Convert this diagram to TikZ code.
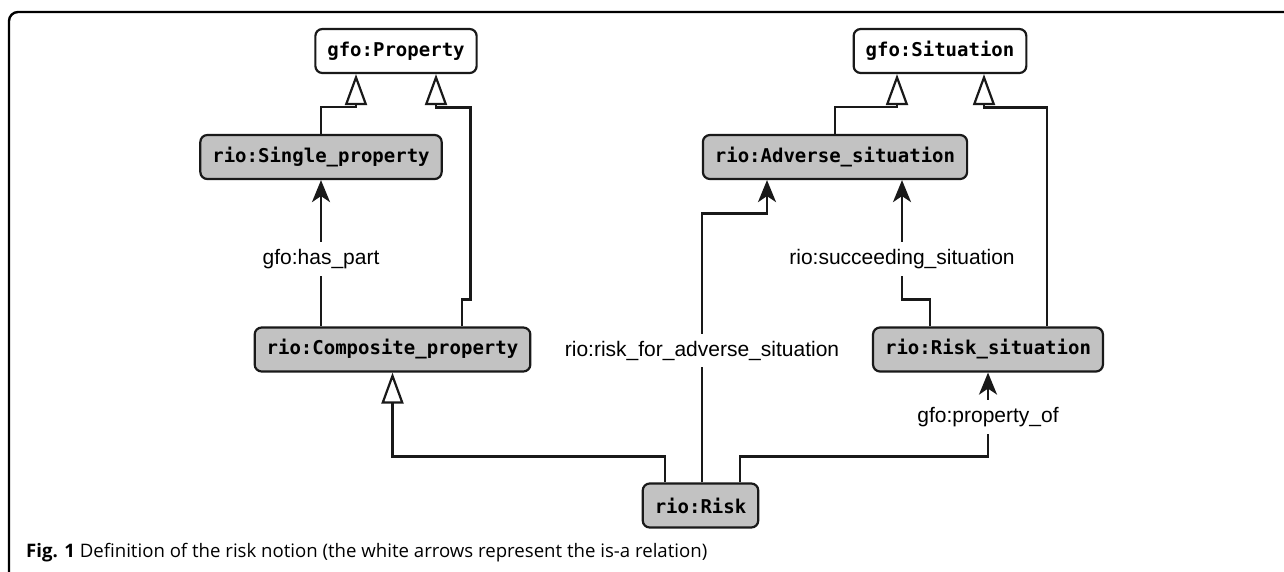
\documentclass[tikz,border=0pt]{standalone}
\usepackage{fontspec}
\usetikzlibrary{arrows.meta}
\newfontfamily\boxfont{DejaVu Sans Mono}
\newfontfamily\lblfont{Liberation Sans}
\newfontfamily\capfont{Open Sans}
\definecolor{boxgray}{RGB}{194,194,194}
\definecolor{inkline}{RGB}{25,25,25}

\tikzset{
  gfobox/.style={draw=inkline, line width=2.2pt, rounded corners=7pt, fill=white,
    minimum height=44pt, inner xsep=12pt, inner ysep=0pt,
    font=\boxfont\bfseries\fontsize{19}{22}\selectfont},
  riobox/.style={gfobox, fill=boxgray},
  isa/.style={draw=inkline, line width=2.2pt, -{Triangle[open, length=31pt, width=22pt, fill=white]}},
  rel/.style={draw=inkline, line width=2.2pt, -{Stealth[length=22pt, width=18pt, inset=6pt]}},
  rellabel/.style={fill=white, inner xsep=3pt, inner ysep=7pt,
    font=\lblfont\fontsize{21}{24}\selectfont}
}

\begin{document}
\begin{tikzpicture}[x=1pt, y=-1pt]
  \useasboundingbox (0,0) rectangle (1284,571);
  \draw[line width=2.4pt, rounded corners=9pt] (9,575) -- (9,12) -- (1290,12);

  \node[gfobox] (prop) at (396,51) {gfo:Property};
  \node[gfobox] (sit) at (940,51) {gfo:Situation};
  \node[riobox] (single) at (321,157) {rio:Single\_property};
  \node[riobox] (adverse) at (835,157) {rio:Adverse\_situation};
  \node[riobox] (composite) at (392.5,349.5) {rio:Composite\_property};
  \node[riobox] (risksit) at (988,349.5) {rio:Risk\_situation};
  \node[riobox] (risk) at (700.5,505.5) {rio:Risk};

  \draw[isa] (single.north) -- ++(0,-27) -| ([xshift=-40pt]prop.south);
  \draw[isa] ([xshift=69.5pt]composite.north) -- ++(0,-27) -- ++(8.5,0) -- ++(0,-192) -| ([xshift=40pt]prop.south);
  \draw[isa] (adverse.north) -- ++(0,-27) -| ([xshift=-43pt]sit.south);
  \draw[isa] ([xshift=59pt]risksit.north) -- ++(0,-219) -| ([xshift=44pt]sit.south);
  \draw[isa] ([xshift=-35.5pt]risk.north) -- ++(0,-26) -| (composite.south);

  \draw[rel] (single.south |- composite.north) to node[rellabel, pos=0.46] {gfo:has\_part} (single.south);
  \draw[rel] ([xshift=-58pt]risksit.north) -- ++(0,-27) -| node[rellabel, pos=0.67] {rio:succeeding\_situation} ([xshift=67pt]adverse.south);
  \draw[rel] ([xshift=1.5pt]risk.north) -- node[rellabel, pos=0.49] {rio:risk\_for\_adverse\_situation} ++(0,-269) -| ([xshift=-68pt]adverse.south);
  \draw[rel] ([xshift=39.5pt]risk.north) -- ++(0,-26) -| node[rellabel, pos=0.735] {gfo:property\_of} (risksit.south);

  \node[anchor=base west, inner sep=0pt, font=\capfont\fontsize{17}{20}\selectfont] (caption) at (26,557)
    {\resizebox{681pt}{!}{\textbf{Fig. 1} Definition of the risk notion (the white arrows represent the is-a relation)}};
\end{tikzpicture}
\end{document}
